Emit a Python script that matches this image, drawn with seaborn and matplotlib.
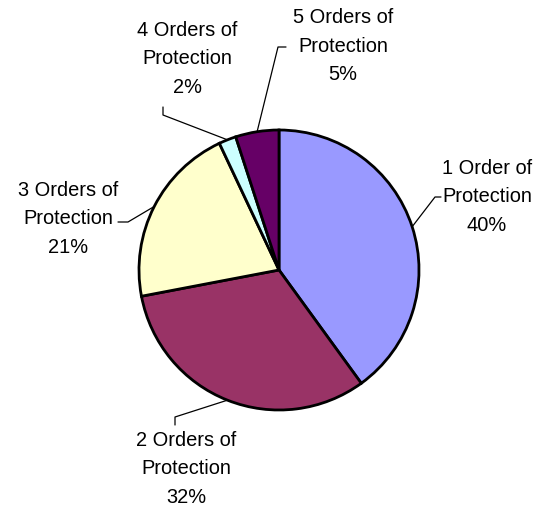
import numpy as np
import matplotlib
matplotlib.use("Agg")
import matplotlib.pyplot as plt
import seaborn as sns

# Data
labels = ["1 Order of\nProtection", "2 Orders of\nProtection", "3 Orders of\nProtection",
          "4 Orders of\nProtection", "5 Orders of\nProtection"]
shares = [40, 32, 21, 2, 5]
colors = ["#9999FF", "#993366", "#FFFFCC", "#CCFFFF", "#660066"]

sns.set_theme(style="white")
plt.rcParams["font.family"] = ["Liberation Sans", "DejaVu Sans"]
palette = sns.color_palette(colors)

W, H = 540, 511
fig = plt.figure(figsize=(W / 100, H / 100), dpi=100)
ax = fig.add_axes([0, 0, 1, 1])

cx, cy, r = 279, 270, 140
# pie drawn in a flipped y axis, so counterclock=True runs clockwise on screen
wedges, _ = ax.pie(shares, colors=palette, startangle=-90, counterclock=True,
                   center=(cx, cy), radius=r, frame=True,
                   wedgeprops=dict(edgecolor="black", linewidth=2))
ax.set_xlim(0, W)
ax.set_ylim(H, 0)
ax.axis("off")

# label layout: text centre, elbow point, line end
layout = [
    ((487, 197), (435, 197), (441, 197)),
    ((186, 469), (175, 417), (175, 425)),
    ((68, 219), (128, 222), (118, 222)),
    ((187, 59), (163, 115), (163, 107)),
    ((343, 46), (278, 47), (286, 47)),
]

for w, lab, val, (tpos, elbow, end) in zip(wedges, labels, shares, layout):
    mid = np.deg2rad((w.theta1 + w.theta2) / 2)
    ax_pt = (cx + r * np.cos(mid), cy + r * np.sin(mid))
    ax.plot([ax_pt[0], elbow[0], end[0]], [ax_pt[1], elbow[1], end[1]],
            color="black", linewidth=0.9)
    ax.text(tpos[0], tpos[1], f"{lab}\n{val}%", ha="center", va="center",
            fontsize=14.4, linespacing=1.65, color="black")

fig.savefig("out.png", dpi=100)
